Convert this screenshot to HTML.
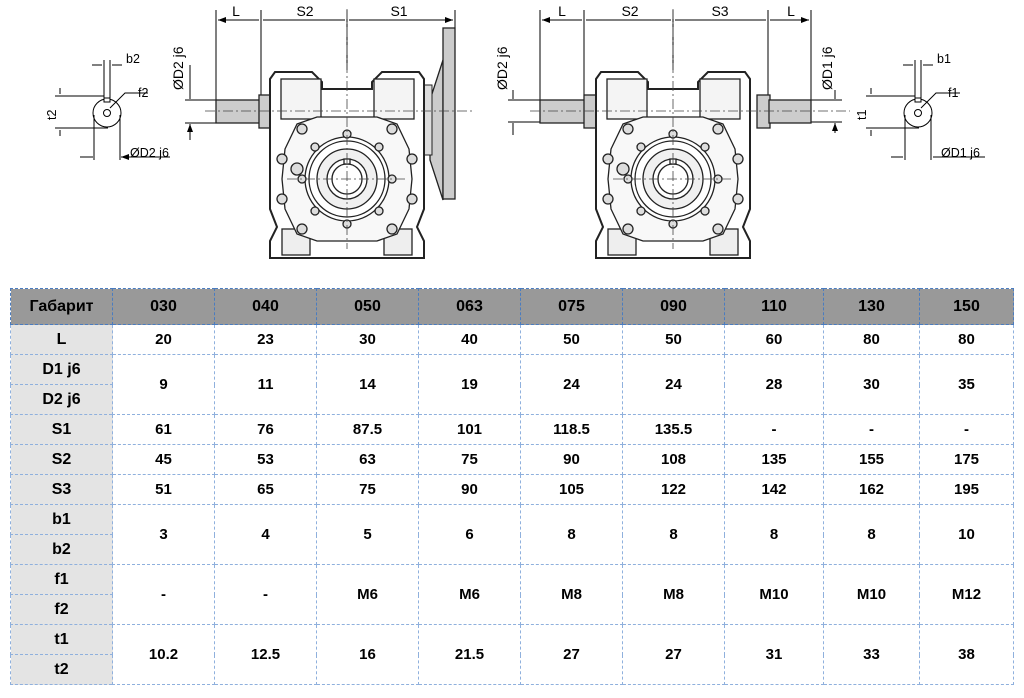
<!DOCTYPE html>
<html><head><meta charset="utf-8"><style>
body{margin:0;width:1024px;height:698px;background:#fff;overflow:hidden;position:relative;font-family:"Liberation Sans",Arial,sans-serif}
svg{position:absolute;left:0;top:0}
table{position:absolute;left:10px;top:288px;border-collapse:collapse;table-layout:fixed;font-weight:bold;font-size:15px;color:#000}
td{border:1px dashed #8fb0dd;text-align:center;padding:0;height:29px}
tr.h td{background:#999;height:35px;border:1.5px dashed #4a7cc0;font-size:16px}
td.f{background:#e4e4e4;font-size:16px}
</style></head><body>
<svg width="1024" height="280" viewBox="0 0 1024 280" font-family="Liberation Sans,Arial,sans-serif" font-size="14">
<defs>
<g id="box" stroke="#222" fill="#fff" stroke-width="1.3">
<path d="M-72,-107 H-35 L-25,-97 V-90 H25 V-97 L35,-107 H72 L77,-100 V30 L70,48 L77,62 V79 H-77 V62 L-70,48 L-77,30 V-100 Z" stroke-width="2"/>
<rect x="-66" y="-100" width="40" height="40" fill="#f4f4f4"/>
<rect x="27" y="-100" width="40" height="40" fill="#f4f4f4"/>
<rect x="-65" y="50" width="28" height="26" fill="#eee"/>
<rect x="37" y="50" width="28" height="26" fill="#eee"/>
<path d="M-50,-55 L-30,-62 L30,-62 L50,-55 L62,-30 L65,0 L62,30 L50,55 L30,62 L-30,62 L-50,55 L-62,30 L-65,0 L-62,-30 Z" fill="#f8f8f8"/>
<circle r="42"/><circle r="38"/><circle r="30" fill="#f0f0f0"/><circle r="20"/><circle r="15"/>
<rect x="-3" y="-20" width="6" height="5" fill="#fff"/>
<g fill="#ddd"><circle cx="-45" cy="-50" r="5"/><circle cx="45" cy="-50" r="5"/><circle cx="-65" cy="-20" r="5"/><circle cx="65" cy="-20" r="5"/><circle cx="-65" cy="20" r="5"/><circle cx="65" cy="20" r="5"/><circle cx="-45" cy="50" r="5"/><circle cx="45" cy="50" r="5"/><circle cx="0" cy="-45" r="4"/><circle cx="0" cy="45" r="4"/><circle cx="-45" cy="0" r="4"/><circle cx="45" cy="0" r="4"/><circle cx="-32" cy="-32" r="4"/><circle cx="32" cy="-32" r="4"/><circle cx="-32" cy="32" r="4"/><circle cx="32" cy="32" r="4"/><circle cx="-50" cy="-10" r="6"/></g>
<g stroke="#444" stroke-width=".8" stroke-dasharray="10,3,2,3" fill="none"><path d="M0,-170 V70 M-60,0 H60"/></g>
</g>
<marker id="a" markerWidth="8" markerHeight="6" refX="8" refY="3" orient="auto-start-reverse"><path d="M0,0 L8,3 L0,6 Z" fill="#000"/></marker>
</defs>
<g stroke="#000" stroke-width="1" fill="none">
<path d="M216,10 V100 M261,10 V95 M347,10 V70 M455,10 V30"/>
<path d="M218,20 H259 M263,20 H345 M349,20 H453" marker-start="url(#a)" marker-end="url(#a)"/>
<path d="M185,100 H216 M185,123 H216 M190,65 V98 M190,125 V140"/>
</g>
<path d="M190,90 V99 M190,133 V124" stroke="#000" marker-end="url(#a)"/>
<text x="236" y="16" text-anchor="middle">L</text><text x="305" y="16" text-anchor="middle">S2</text><text x="399" y="16" text-anchor="middle">S1</text>
<text transform="translate(183,90) rotate(-90)">ØD2 j6</text>
<rect x="216" y="100" width="46" height="23" fill="#ccc" stroke="#222" stroke-width="1.3"/>
<rect x="259" y="95" width="12" height="33" fill="#ccc" stroke="#222" stroke-width="1.3"/>
<path d="M430,100 L443,60 V200 L430,160 Z" fill="#ccc" stroke="#222" stroke-width="1.3"/>
<rect x="443" y="28" width="12" height="171" fill="#ccc" stroke="#222" stroke-width="1.3"/>
<rect x="420" y="85" width="12" height="70" fill="#ddd" stroke="#222"/>
<use href="#box" x="347" y="179"/>
<path d="M205,111 H475" stroke="#444" stroke-width=".8" stroke-dasharray="10,3,2,3"/>
<g stroke="#000" stroke-width="1" fill="none">
<path d="M540,10 V100 M584,10 V95 M673,10 V70 M768,10 V95 M811,10 V100"/>
<path d="M542,20 H582 M586,20 H671 M675,20 H766 M770,20 H809" marker-start="url(#a)" marker-end="url(#a)"/>
<path d="M508,100 H540 M508,122 H540 M513,135 V132 M811,100 H842 M811,122 H842"/>
</g>
<path d="M513,90 V99 M513,133 V123 M835,90 V99 M835,133 V123" stroke="#000" marker-end="url(#a)"/>
<text x="562" y="16" text-anchor="middle">L</text><text x="630" y="16" text-anchor="middle">S2</text><text x="720" y="16" text-anchor="middle">S3</text><text x="791" y="16" text-anchor="middle">L</text>
<text transform="translate(507,90) rotate(-90)">ØD2 j6</text>
<text transform="translate(832,90) rotate(-90)">ØD1 j6</text>
<rect x="540" y="100" width="46" height="23" fill="#ccc" stroke="#222" stroke-width="1.3"/>
<rect x="584" y="95" width="13" height="33" fill="#ccc" stroke="#222" stroke-width="1.3"/>
<use href="#box" x="673" y="179"/>
<rect x="757" y="95" width="13" height="33" fill="#ccc" stroke="#222" stroke-width="1.3"/>
<rect x="769" y="100" width="42" height="23" fill="#ccc" stroke="#222" stroke-width="1.3"/>
<path d="M530,111 H850" stroke="#444" stroke-width=".8" stroke-dasharray="10,3,2,3"/>
<g stroke="#000" stroke-width="1" fill="none">
<circle cx="107" cy="113" r="14"/><circle cx="107" cy="113" r="3.5"/><rect x="104" y="98" width="6" height="4" fill="#fff"/>
<path d="M104,60 V98 M110,60 V98 M92,65 H102 M112,65 H122 M55,96 H104 M55,128 H108 M94,115 V160 M120,115 V160 M80,157 H92 M122,157 H170 M110,108 L125,93 H148"/>
<path d="M60,88 V94 M60,136 V130 M88,157 H93 M126,157 H121" marker-end="url(#a)"/>
<circle cx="918" cy="113" r="14"/><circle cx="918" cy="113" r="3.5"/><rect x="915" y="98" width="6" height="4" fill="#fff"/>
<path d="M915,60 V98 M921,60 V98 M903,65 H913 M923,65 H933 M866,96 H915 M866,128 H919 M905,115 V160 M931,115 V160 M891,157 H903 M933,157 H985 M921,108 L936,93 H960"/>
<path d="M871,88 V94 M871,136 V130"/>
</g>
<g font-size="12.5">
<text x="126" y="63">b2</text><text x="138" y="97">f2</text><text x="130" y="157">ØD2 j6</text>
<text transform="translate(56,120) rotate(-90)">t2</text>
<text x="937" y="63">b1</text><text x="948" y="97">f1</text><text x="941" y="157">ØD1 j6</text>
<text transform="translate(866,120) rotate(-90)">t1</text>
</g>
</svg>
<table>
<colgroup><col style="width:102px"><col style="width:102px"><col style="width:102px"><col style="width:102px"><col style="width:102px"><col style="width:102px"><col style="width:102px"><col style="width:99px"><col style="width:96px"><col style="width:94px"></colgroup>
<tr class="h"><td>Габарит</td><td>030</td><td>040</td><td>050</td><td>063</td><td>075</td><td>090</td><td>110</td><td>130</td><td>150</td></tr>
<tr><td class="f">L</td><td>20</td><td>23</td><td>30</td><td>40</td><td>50</td><td>50</td><td>60</td><td>80</td><td>80</td></tr>
<tr><td class="f">D1 j6</td><td rowspan="2">9</td><td rowspan="2">11</td><td rowspan="2">14</td><td rowspan="2">19</td><td rowspan="2">24</td><td rowspan="2">24</td><td rowspan="2">28</td><td rowspan="2">30</td><td rowspan="2">35</td></tr>
<tr><td class="f">D2 j6</td></tr>
<tr><td class="f">S1</td><td>61</td><td>76</td><td>87.5</td><td>101</td><td>118.5</td><td>135.5</td><td>-</td><td>-</td><td>-</td></tr>
<tr><td class="f">S2</td><td>45</td><td>53</td><td>63</td><td>75</td><td>90</td><td>108</td><td>135</td><td>155</td><td>175</td></tr>
<tr><td class="f">S3</td><td>51</td><td>65</td><td>75</td><td>90</td><td>105</td><td>122</td><td>142</td><td>162</td><td>195</td></tr>
<tr><td class="f">b1</td><td rowspan="2">3</td><td rowspan="2">4</td><td rowspan="2">5</td><td rowspan="2">6</td><td rowspan="2">8</td><td rowspan="2">8</td><td rowspan="2">8</td><td rowspan="2">8</td><td rowspan="2">10</td></tr>
<tr><td class="f">b2</td></tr>
<tr><td class="f">f1</td><td rowspan="2">-</td><td rowspan="2">-</td><td rowspan="2">M6</td><td rowspan="2">M6</td><td rowspan="2">M8</td><td rowspan="2">M8</td><td rowspan="2">M10</td><td rowspan="2">M10</td><td rowspan="2">M12</td></tr>
<tr><td class="f">f2</td></tr>
<tr><td class="f">t1</td><td rowspan="2">10.2</td><td rowspan="2">12.5</td><td rowspan="2">16</td><td rowspan="2">21.5</td><td rowspan="2">27</td><td rowspan="2">27</td><td rowspan="2">31</td><td rowspan="2">33</td><td rowspan="2">38</td></tr>
<tr><td class="f">t2</td></tr>
</table>
</body></html>
